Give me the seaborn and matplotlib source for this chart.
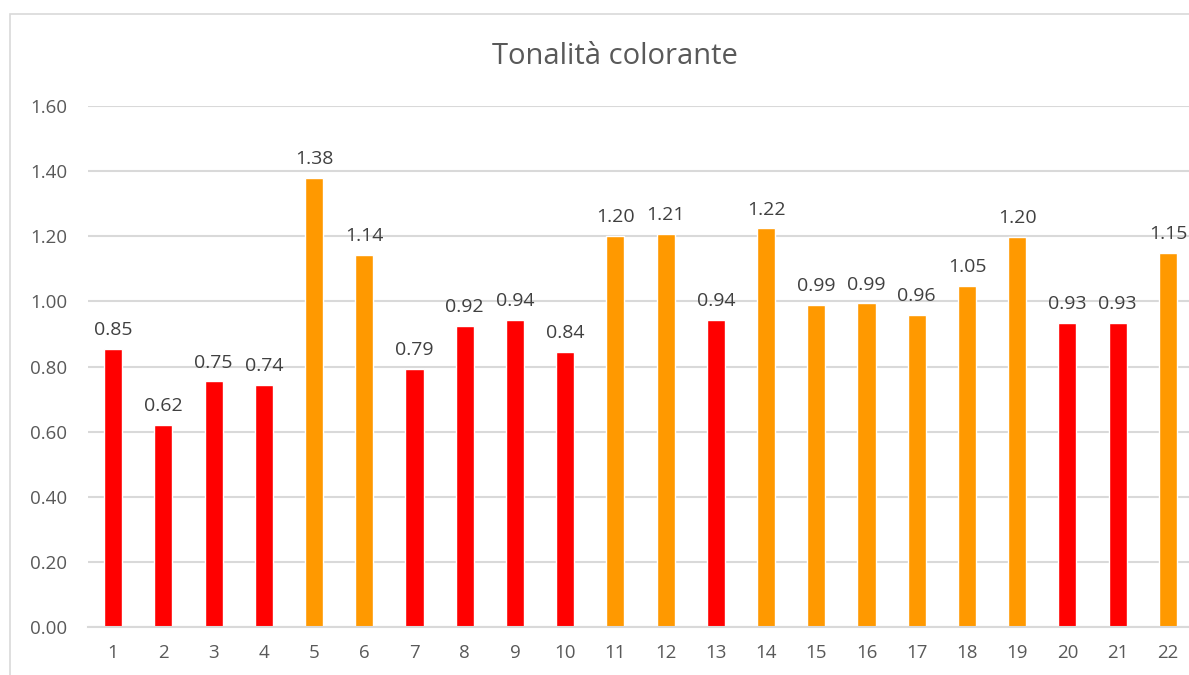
import pandas as pd
import matplotlib.pyplot as plt
import matplotlib.patches as patches
import seaborn as sns

samples = [str(i) for i in range(1, 23)]
values = [0.854, 0.62, 0.754, 0.743, 1.379, 1.142, 0.792, 0.924, 0.943, 0.844, 1.201,
          1.207, 0.943, 1.224, 0.989, 0.994, 0.958, 1.047, 1.198, 0.934, 0.934, 1.149]
groups = ['red', 'red', 'red', 'red', 'orange', 'orange', 'red', 'red', 'red', 'red', 'orange',
          'orange', 'red', 'orange', 'orange', 'orange', 'orange', 'orange', 'orange', 'red', 'red', 'orange']

df = pd.DataFrame({'sample': samples, 'value': values, 'group': groups})

sns.set_style('white')
plt.rcParams['font.family'] = ['Open Sans', 'DejaVu Sans']

fig = plt.figure(figsize=(11.89, 6.75), dpi=100)
ax = fig.add_axes([88 / 1189, 1 - 627 / 675, 1105 / 1189, (627 - 106) / 675])

sns.barplot(data=df, x='sample', y='value', hue='group',
            palette={'red': '#FF0000', 'orange': '#FF9900'},
            dodge=False, width=0.36, legend=False, ax=ax, saturation=1)

for c in ax.containers:
    ax.bar_label(c, fmt='%.2f', padding=7, fontsize=14, color='#404040')

ax.set_ylim(0, 1.6)
ax.set_xlim(-0.5, 21.5)
ax.set_yticks([i * 0.2 for i in range(9)])
ax.set_yticklabels([f'{i * 0.2:.2f}' for i in range(9)])
ax.yaxis.grid(True, color='#D9D9D9', linewidth=1.5)
ax.set_axisbelow(True)
for s in ['top', 'right', 'left']:
    ax.spines[s].set_visible(False)
ax.spines['bottom'].set_color('#D9D9D9')
ax.spines['bottom'].set_linewidth(1.5)
ax.tick_params(axis='both', length=0, labelsize=13.5, labelcolor='#595959')
ax.tick_params(axis='y', pad=15)
ax.tick_params(axis='x', pad=12)
ax.set_xlabel('')
ax.set_ylabel('')

fig.text(615 / 1189, 1 - 57 / 675, 'Tonalità colorante', ha='center', va='center',
         fontsize=21, color='#595959')

fig.patches.append(patches.Rectangle((10 / 1189, -0.1), 1.2, 1 - 14 / 675 + 0.1,
                                     transform=fig.transFigure, fill=False,
                                     edgecolor='#D9D9D9', linewidth=1.2))

fig.savefig('out.png', dpi=100)
